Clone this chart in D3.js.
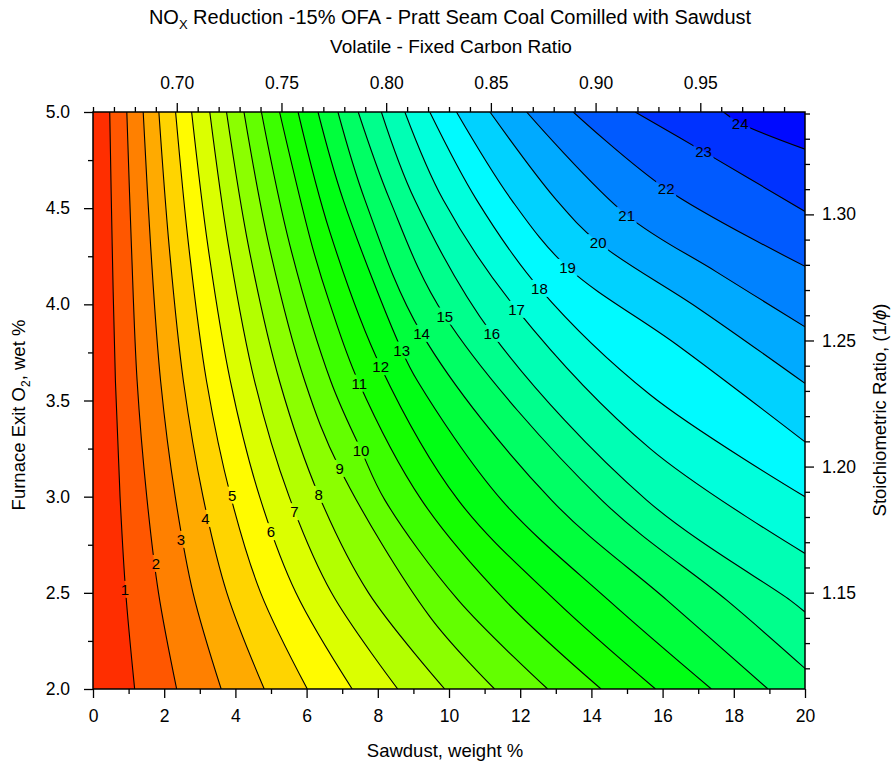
<!DOCTYPE html>
<html><head><meta charset="utf-8">
<script src="https://cdn.jsdelivr.net/npm/d3@7"></script>
<style>
body{margin:0;background:#fff}
text{font-family:"Liberation Sans",Arial,sans-serif;fill:#000}
</style>
</head><body>
<svg id="chart" width="895" height="766"></svg>
<script>
// ---------- data ----------
// contour levels (NOx reduction, %)
const levels = [1,2,3,4,5,6,7,8,9,10,11,12,13,14,15,16,17,18,19,20,21,22,23,24];
// each contour: [sawdust wt %, furnace exit O2 %], from the top edge down
const c01 = [[0.47,5.0],[0.54,4.3],[0.63,3.6],[0.76,3.0],[0.92,2.5],[1.17,2.0]];
const c02 = [[0.95,5.0],[1.08,4.3],[1.24,3.6],[1.51,3.0],[1.84,2.5],[2.35,2.0]];
const c03 = [[1.41,5.0],[1.62,4.3],[1.90,3.6],[2.31,3.0],[2.81,2.5],[3.60,2.0]];
const c04 = [[1.85,5.0],[2.14,4.3],[2.54,3.6],[3.09,3.0],[3.76,2.5],[4.81,2.0]];
const c05 = [[2.32,5.0],[2.69,4.3],[3.19,3.6],[3.87,3.0],[4.71,2.5],[6.02,2.0]];
const c06 = [[2.77,5.0],[3.23,4.3],[3.86,3.6],[4.68,3.0],[5.70,2.5],[7.28,2.0]];
const c07 = [[3.28,5.0],[3.81,4.3],[4.54,3.6],[5.51,3.0],[6.70,2.5],[8.56,2.0]];
const c08 = [[3.75,5.0],[4.37,4.3],[5.24,3.6],[6.36,3.0],[7.74,2.5],[9.88,2.0]];
const c09 = [[4.24,5.0],[4.95,4.3],[5.95,3.6],[6.93,3.147],[9.46,2.376],[11.28,2.0]];
const c10 = [[4.73,5.0],[5.54,4.3],[6.68,3.6],[7.53,3.242],[8.20,2.982],[10.26,2.462],[12.77,2.0]];
const c11 = [[5.24,5.0],[6.16,4.3],[6.65,4.005],[7.45,3.6],[9.23,2.982],[11.57,2.462],[14.27,2.0]];
const c12 = [[5.76,5.0],[6.65,4.378],[8.08,3.676],[10.26,2.982],[12.98,2.462],[15.80,2.0]];
const c13 = [[6.32,5.0],[7.03,4.542],[8.67,3.762],[9.12,3.6],[11.48,2.982],[14.48,2.462],[17.37,2.0]];
const c14 = [[6.88,5.0],[7.64,4.542],[9.23,3.849],[12.88,2.982],[16.12,2.462],[18.96,2.0]];
const c15 = [[7.45,5.0],[8.34,4.542],[9.88,3.939],[14.29,2.982],[17.80,2.462],[20,2.107]];
const c16 = [[8.10,5.0],[9.04,4.542],[11.2,3.849],[15.55,2.982],[19.58,2.462],[20,2.40]];
const c17 = [[8.76,5.0],[9.84,4.542],[11.9,3.974],[15.65,3.25],[20,2.705]];
const c18 = [[9.46,5.0],[10.78,4.542],[12.54,4.083],[15.65,3.53],[20,3.0]];
const c19 = [[10.21,5.0],[11.76,4.542],[13.33,4.192],[16.4,3.79],[20,3.285]];
const c20 = [[11.15,5.0],[13.02,4.542],[14.19,4.322],[17.0,3.98],[20,3.589]];
const c21 = [[12.18,5.0],[14.99,4.464],[17.5,4.17],[20,3.883]];
const c22 = [[13.49,5.0],[16.1,4.60],[20,4.198]];
const c23 = [[15.23,5.0],[17.15,4.794],[20,4.483]];
const c24 = [[17.71,5.0],[18.18,4.942],[20,4.807]];
const contourLines = [c01,c02,c03,c04,c05,c06,c07,c08,c09,c10,c11,c12,c13,c14,c15,c16,c17,c18,c19,c20,c21,c22,c23,c24];
// contour label positions
const labelX = [0.90,1.77,2.47,3.16,3.91,5.00,5.66,6.34,6.93,7.53,7.48,8.08,8.67,9.23,9.88,11.2,11.9,12.54,13.33,14.19,14.99,16.1,17.15,18.18];
const labelY = [2.518,2.653,2.778,2.887,3.008,2.818,2.922,3.012,3.147,3.242,3.59,3.676,3.762,3.849,3.939,3.849,3.974,4.083,4.192,4.322,4.464,4.60,4.794,4.942];
// axes
const xTicks = [0,2,4,6,8,10,12,14,16,18,20];
const yTicks = [2.0,2.5,3.0,3.5,4.0,4.5,5.0];
const topTicks = [0.70,0.75,0.80,0.85,0.90,0.95];
const rightTicks = [1.15,1.20,1.25,1.30];

// ---------- style ----------
const bandColors = ["#FF2E00","#FF5700","#FF8000","#FFAA00","#FFD400","#FFFB00","#DBFF00","#B3FF00","#8BFF00","#63FF00",
  "#3CFF00","#14FF00","#00FF14","#00FF3C","#00FF64","#00FF8C","#00FFB4","#00FFDC","#00FAFF","#00D2FF",
  "#00AAFF","#0082FF","#005AFF","#0032FF","#000AFF"];

const L = 93, R = 805, T = 112, B = 689;
const x = d3.scaleLinear([0,20],[L,R]);
const y = d3.scaleLinear([2,5],[B,T]);
const xTop = d3.scaleLinear([0.66,1.0],[L,R]);
const yRight = d3.scaleLinear([1.1118,1.3406],[B,T]);

const svg = d3.select("#chart");
const defs = svg.append("defs");
defs.append("clipPath").attr("id","plotclip").append("rect")
  .attr("x",L).attr("y",T).attr("width",R-L).attr("height",B-T);

const line = d3.line().x(d=>x(d[0])).y(d=>y(d[1])).curve(d3.curveCatmullRom.alpha(0.5));

// filled bands
const gFill = svg.append("g").attr("clip-path","url(#plotclip)");
gFill.append("rect").attr("x",L).attr("y",T).attr("width",R-L).attr("height",B-T).attr("fill",bandColors[0]);
contourLines.forEach((pts,i)=>{
  const end = pts[pts.length-1];
  let d = line(pts);
  if (end[1] <= 2.0001) d += `L${x(20)+2},${y(2)+2}L${x(20)+2},${y(5)-2}L${x(pts[0][0])},${y(5)-2}Z`;
  else d += `L${x(20)+2},${y(end[1])}L${x(20)+2},${y(5)-2}L${x(pts[0][0])},${y(5)-2}Z`;
  gFill.append("path").attr("d",d).attr("fill",bandColors[i+1]);
});

// label gaps
const lblFont = 15;
const mask = defs.append("mask").attr("id","lblmask").attr("maskUnits","userSpaceOnUse")
  .attr("x",0).attr("y",0).attr("width",895).attr("height",766);
mask.append("rect").attr("x",0).attr("y",0).attr("width",895).attr("height",766).attr("fill","#fff");
levels.forEach((lv,i)=>{
  const w = String(lv).length*8.5 + 3;
  mask.append("rect").attr("x",x(labelX[i])-w/2).attr("y",y(labelY[i])-8.5).attr("width",w).attr("height",17).attr("fill","#000");
});

const gLines = svg.append("g").attr("clip-path","url(#plotclip)");
gLines.append("g").attr("mask","url(#lblmask)").selectAll("path").data(contourLines).join("path")
  .attr("d",line).attr("fill","none").attr("stroke","#000").attr("stroke-width",1.1);

svg.append("g").selectAll("text").data(levels).join("text")
  .attr("x",(d,i)=>x(labelX[i])).attr("y",(d,i)=>y(labelY[i])+5.5)
  .attr("text-anchor","middle").attr("font-size",lblFont).text(d=>d);

// ---------- axes ----------
const fs = 17.5;
function styleAxis(g){
  g.select(".domain").remove();
  g.selectAll(".tick line").attr("stroke","#000").attr("stroke-width",1.3);
  g.selectAll(".tick text").attr("font-size",fs).attr("font-family",'"Liberation Sans",Arial,sans-serif').attr("fill","#000");
}
const minorX = d3.range(1,20,2);
const minorY = [2.25,2.75,3.25,3.75,4.25,4.75];
const minorTop = d3.range(66,100,1).map(v=>v/100).filter(v=>Math.round(v*100)%5!==0);
const minorRight = d3.range(112,135,1).map(v=>v/100).filter(v=>Math.round(v*100)%5!==0);

svg.append("g").attr("transform",`translate(0,${B})`)
  .call(d3.axisBottom(x).tickValues(xTicks).tickSize(9).tickPadding(12).tickFormat(d3.format("d"))).call(styleAxis);
svg.append("g").attr("transform",`translate(0,${B})`)
  .call(d3.axisBottom(x).tickValues(minorX).tickSize(5).tickFormat("")).call(styleAxis);
svg.append("g").attr("transform",`translate(${L},0)`)
  .call(d3.axisLeft(y).tickValues(yTicks).tickSize(9).tickPadding(14).tickFormat(d3.format(".1f"))).call(styleAxis);
svg.append("g").attr("transform",`translate(${L},0)`)
  .call(d3.axisLeft(y).tickValues(minorY).tickSize(5).tickFormat("")).call(styleAxis);
svg.append("g").attr("transform",`translate(0,${T})`)
  .call(d3.axisTop(xTop).tickValues(topTicks).tickSize(9).tickPadding(14).tickFormat(d3.format(".2f"))).call(styleAxis);
svg.append("g").attr("transform",`translate(0,${T})`)
  .call(d3.axisTop(xTop).tickValues(minorTop).tickSize(5).tickFormat("")).call(styleAxis);
svg.append("g").attr("transform",`translate(${R},0)`)
  .call(d3.axisRight(yRight).tickValues(rightTicks).tickSize(9).tickPadding(8).tickFormat(d3.format(".2f"))).call(styleAxis);
svg.append("g").attr("transform",`translate(${R},0)`)
  .call(d3.axisRight(yRight).tickValues(minorRight).tickSize(5).tickFormat("")).call(styleAxis);

// frame
svg.append("rect").attr("x",L).attr("y",T).attr("width",R-L).attr("height",B-T)
  .attr("fill","none").attr("stroke","#000").attr("stroke-width",1.5);

// ---------- titles ----------
const title = svg.append("text").attr("x",450).attr("y",24).attr("text-anchor","middle").attr("font-size",20);
title.append("tspan").text("NO");
title.append("tspan").attr("font-size",13).attr("dy",5).text("X");
title.append("tspan").attr("dy",-5).text(" Reduction -15% OFA - Pratt Seam Coal Comilled with Sawdust");
svg.append("text").attr("x",451).attr("y",53).attr("text-anchor","middle").attr("font-size",19)
  .text("Volatile - Fixed Carbon Ratio");
svg.append("text").attr("x",445).attr("y",757).attr("text-anchor","middle").attr("font-size",18.5)
  .text("Sawdust, weight %");
const yl = svg.append("text").attr("transform","translate(25,415) rotate(-90)").attr("text-anchor","middle").attr("font-size",18.5);
yl.append("tspan").text("Furnace Exit O");
yl.append("tspan").attr("font-size",12).attr("dy",5).text("2");
yl.append("tspan").attr("dy",-5).text(", wet %");
const yr = svg.append("text").attr("transform","translate(886,410) rotate(-90)").attr("text-anchor","middle").attr("font-size",18.5);
yr.append("tspan").text("Stoichiometric Ratio, (1/");
yr.append("tspan").attr("font-style","italic").text("\u03D5");
yr.append("tspan").text(")");
</script>
</body></html>
